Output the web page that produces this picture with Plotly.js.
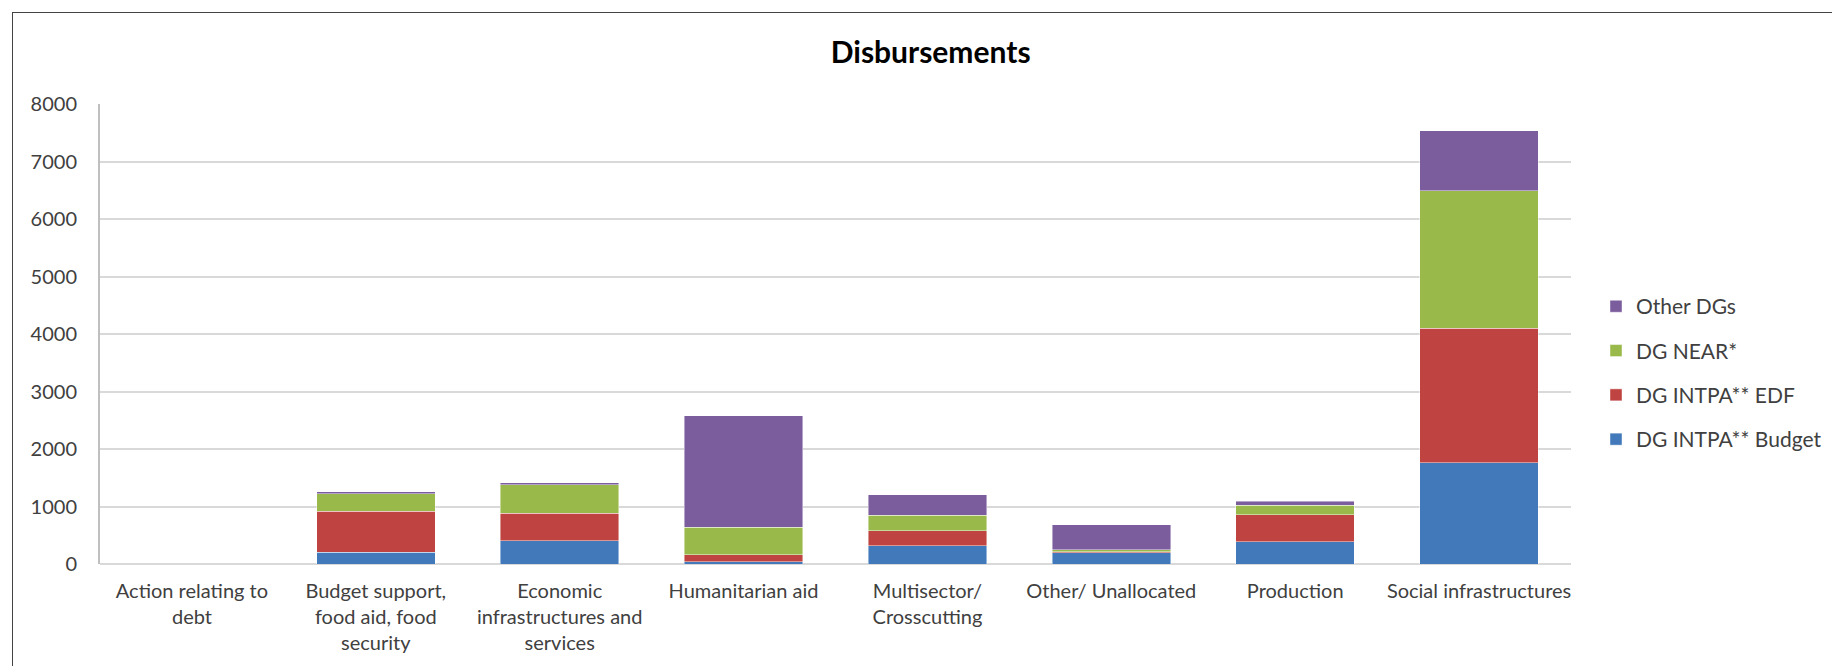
<!DOCTYPE html>
<html>
<head>
<meta charset="utf-8">
<script src="https://cdn.plot.ly/plotly-3.0.1.min.js"></script>
<style>
  html, body { margin: 0; padding: 0; background: #fff; }
  #frame { position: absolute; left: 12px; top: 12px; width: 1840px; height: 700px;
           border-left: 1px solid #444; border-top: 1px solid #444; pointer-events: none; }
  #chart { position: absolute; left: 0; top: 0; width: 1832px; height: 666px; }
</style>
</head>
<body>
<div id="chart"></div>
<div id="frame"></div>
<script>
// Categories (sector) and their wrapped tick labels
const categories = [
  "Action relating to debt",
  "Budget support, food aid, food security",
  "Economic infrastructures and services",
  "Humanitarian aid",
  "Multisector/ Crosscutting",
  "Other/ Unallocated",
  "Production",
  "Social infrastructures"
];
const tickLabels = [
  "Action relating to<br>debt",
  "Budget support,<br>food aid, food<br>security",
  "Economic<br>infrastructures and<br>services",
  "Humanitarian aid",
  "Multisector/<br>Crosscutting",
  "Other/ Unallocated",
  "Production",
  "Social infrastructures"
];

// Series values (disbursements)
const intpaBudget = [0, 204, 408, 35, 321, 192, 385, 1760];
const intpaEdf    = [0, 717, 472, 122, 256, 25, 472, 2344];
const dgNear      = [0, 303, 502, 484, 274, 30, 163, 2389];
const otherDgs    = [0, 30, 35, 1936, 350, 440, 70, 1043];

const seriesNames = ["DG INTPA** Budget", "DG INTPA** EDF", "DG NEAR*", "Other DGs"];
const seriesValues = [intpaBudget, intpaEdf, dgNear, otherDgs];
const seriesColors = ["#4279BB", "#BF4441", "#9AB94B", "#7B5C9D"];

const traces = seriesNames.map((name, i) => ({
  type: "bar",
  name: name,
  x: categories,
  y: seriesValues[i],
  legendgroup: "g" + i,
  legendrank: 1000 - i,
  marker: { color: seriesColors[i], line: { color: "rgba(255,255,255,0.55)", width: 0.8 } },
  hoverinfo: "x+y+name"
}));

const font = "Lato, 'Open Sans', sans-serif";

const layout = {
  width: 1832,
  height: 666,
  paper_bgcolor: "#ffffff",
  plot_bgcolor: "#ffffff",
  barmode: "stack",
  bargap: 0.355,
  margin: { l: 100, r: 261, t: 104, b: 102, pad: 0, autoexpand: false },
  font: { family: font, size: 20, color: "#404040" },
  title: {
    text: "<b>Disbursements</b>",
    font: { family: font, size: 30, color: "#000000" },
    xref: "container", x: 0.508, xanchor: "center",
    yref: "container", y: 0.921, yanchor: "middle"
  },
  xaxis: {
    type: "category",
    tickmode: "array",
    tickvals: categories,
    ticktext: tickLabels,
    tickangle: 0,
    showgrid: false,
    showline: false,
    ticks: "",
    ticklabelstandoff: 13,
    tickfont: { family: font, size: 20, color: "#404040" },
    automargin: false
  },
  yaxis: {
    range: [0, 8000],
    dtick: 1000,
    tick0: 0,
    showgrid: true,
    gridcolor: "#D9D9D9",
    gridwidth: 2,
    zeroline: true,
    zerolinecolor: "#D9D9D9",
    zerolinewidth: 2,
    showline: true,
    linecolor: "#BFBFBF",
    linewidth: 2,
    ticks: "",
    ticklabelstandoff: 17,
    tickfont: { family: font, size: 20, color: "#404040" },
    automargin: false
  },
  legend: {
    x: 1.017, xanchor: "left",
    y: 0.415, yanchor: "middle",
    traceorder: "grouped",
    tracegroupgap: 14,
    font: { family: font, size: 21, color: "#404040" },
    bgcolor: "rgba(0,0,0,0)"
  },
  showlegend: true
};

Plotly.newPlot("chart", traces, layout, { displayModeBar: false, staticPlot: true });
</script>
</body>
</html>
